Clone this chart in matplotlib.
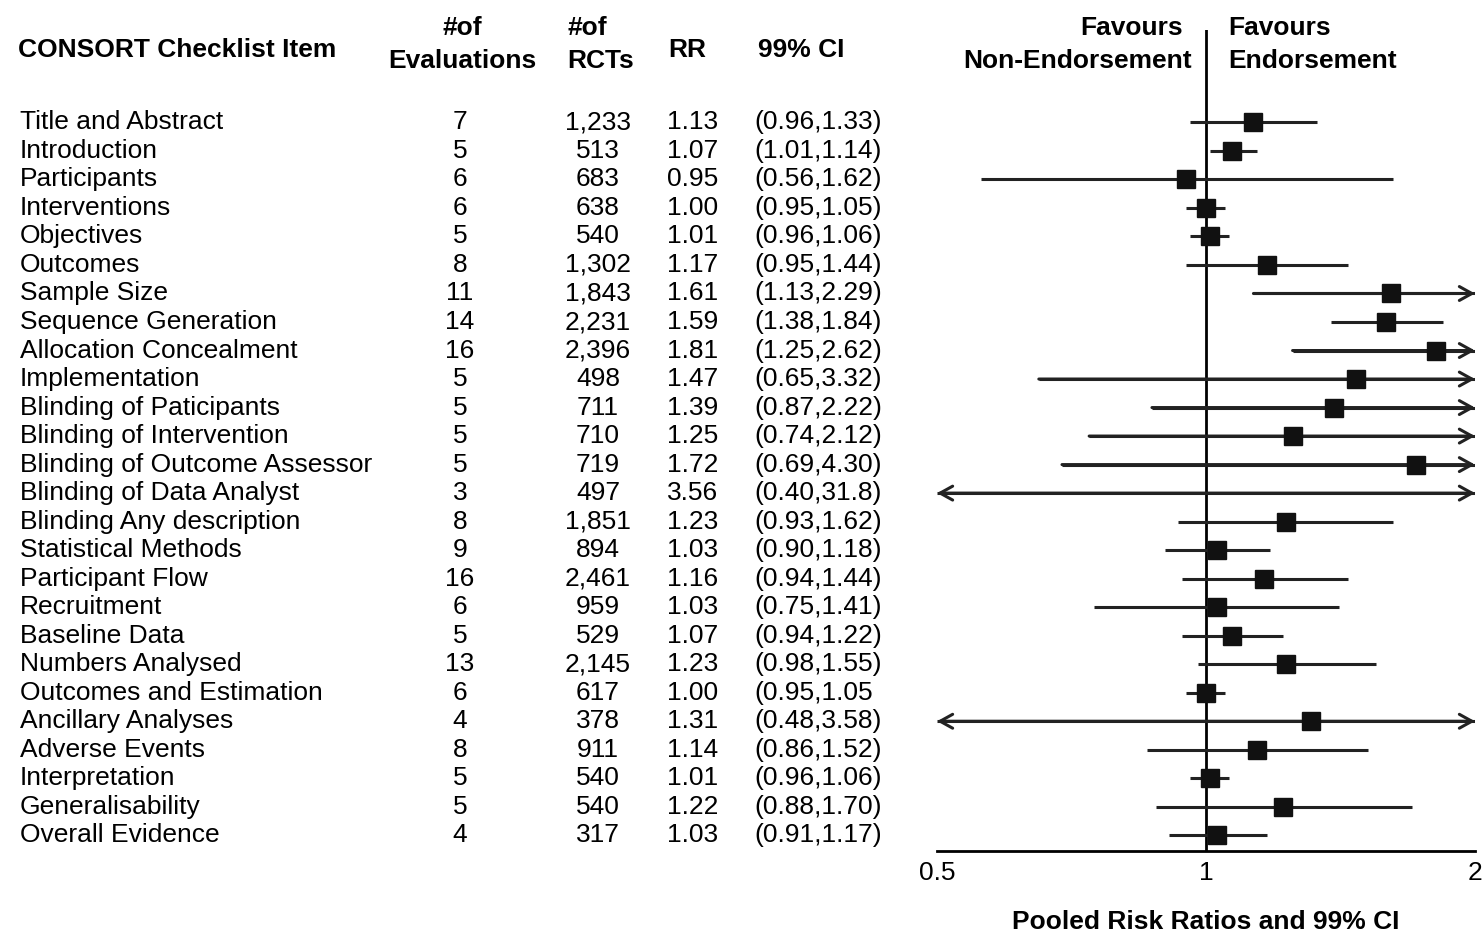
import matplotlib
matplotlib.use("Agg")
import matplotlib.pyplot as plt
import matplotlib.transforms as mtrans

plt.rcParams['font.family'] = ['Liberation Sans', 'DejaVu Sans']

items = ["Title and Abstract", "Introduction", "Participants", "Interventions", "Objectives",
         "Outcomes", "Sample Size", "Sequence Generation", "Allocation Concealment",
         "Implementation", "Blinding of Paticipants", "Blinding of Intervention",
         "Blinding of Outcome Assessor", "Blinding of Data Analyst", "Blinding Any description",
         "Statistical Methods", "Participant Flow", "Recruitment", "Baseline Data",
         "Numbers Analysed", "Outcomes and Estimation", "Ancillary Analyses", "Adverse Events",
         "Interpretation", "Generalisability", "Overall Evidence"]
n_evals = [7, 5, 6, 6, 5, 8, 11, 14, 16, 5, 5, 5, 5, 3, 8, 9, 16, 6, 5, 13, 6, 4, 8, 5, 5, 4]
n_rcts = ["1,233", "513", "683", "638", "540", "1,302", "1,843", "2,231", "2,396", "498",
          "711", "710", "719", "497", "1,851", "894", "2,461", "959", "529", "2,145",
          "617", "378", "911", "540", "540", "317"]
rr = [1.13, 1.07, 0.95, 1.00, 1.01, 1.17, 1.61, 1.59, 1.81, 1.47, 1.39, 1.25, 1.72, 3.56,
      1.23, 1.03, 1.16, 1.03, 1.07, 1.23, 1.00, 1.31, 1.14, 1.01, 1.22, 1.03]
lo = [0.96, 1.01, 0.56, 0.95, 0.96, 0.95, 1.13, 1.38, 1.25, 0.65, 0.87, 0.74, 0.69, 0.40,
      0.93, 0.90, 0.94, 0.75, 0.94, 0.98, 0.95, 0.48, 0.86, 0.96, 0.88, 0.91]
hi = [1.33, 1.14, 1.62, 1.05, 1.06, 1.44, 2.29, 1.84, 2.62, 3.32, 2.22, 2.12, 4.30, 31.8,
      1.62, 1.18, 1.44, 1.41, 1.22, 1.55, 1.05, 3.58, 1.52, 1.06, 1.70, 1.17]
ci_text = ["(0.96,1.33)", "(1.01,1.14)", "(0.56,1.62)", "(0.95,1.05)", "(0.96,1.06)",
           "(0.95,1.44)", "(1.13,2.29)", "(1.38,1.84)", "(1.25,2.62)", "(0.65,3.32)",
           "(0.87,2.22)", "(0.74,2.12)", "(0.69,4.30)", "(0.40,31.8)", "(0.93,1.62)",
           "(0.90,1.18)", "(0.94,1.44)", "(0.75,1.41)", "(0.94,1.22)", "(0.98,1.55)",
           "(0.95,1.05", "(0.48,3.58)", "(0.86,1.52)", "(0.96,1.06)", "(0.88,1.70)",
           "(0.91,1.17)"]
rr_text = ["1.13", "1.07", "0.95", "1.00", "1.01", "1.17", "1.61", "1.59", "1.81", "1.47",
           "1.39", "1.25", "1.72", "3.56", "1.23", "1.03", "1.16", "1.03", "1.07", "1.23",
           "1.00", "1.31", "1.14", "1.01", "1.22", "1.03"]
xticks = [0.5, 1, 2]
xtick_labels = ["0.5", "1", "2"]

W, H = 1483, 934
fig = plt.figure(figsize=(W / 100, H / 100), dpi=100)
ax = fig.add_axes([937 / W, 1 - 851 / H, (1475 - 937) / W, (851 - 30) / H])
ax.set_xscale('log')
XMIN, XMAX = 0.5, 2.0
ax.set_xlim(XMIN, XMAX)
ax.set_ylim(25.55, -3.24)
for s in ['top', 'right', 'left']:
    ax.spines[s].set_visible(False)
ax.spines['bottom'].set_linewidth(2)
ax.set_yticks([])
ax.set_xticks(xticks)
ax.set_xticklabels(xtick_labels)
ax.minorticks_off()
ax.tick_params(axis='x', length=0, pad=7, labelsize=19)
ax.axvline(1, color='black', lw=2, zorder=1)

for i in range(len(items)):
    l = max(lo[i], XMIN)
    h = min(hi[i], XMAX)
    left_arrow = lo[i] < XMIN
    right_arrow = hi[i] > XMAX
    ax.plot([l, h], [i, i], color='#222222', lw=2.2, solid_capstyle='butt', zorder=2)
    if left_arrow and right_arrow:
        style = '<->'
    elif right_arrow:
        style = '->'
    elif left_arrow:
        style = '<-'
    else:
        style = None
    if style:
        ax.annotate('', xy=(h, i), xytext=(l, i),
                    arrowprops=dict(arrowstyle=style + ',head_length=0.9,head_width=0.5',
                                    color='#222222', lw=2.2, shrinkA=0, shrinkB=0),
                    annotation_clip=False)
    if XMIN <= rr[i] <= XMAX:
        ax.plot(rr[i], i, marker='s', markersize=13, color='#111111', zorder=3)

ax.set_xlabel("Pooled Risk Ratios and 99% CI", fontsize=19, fontweight='bold', labelpad=18)

tr = mtrans.blended_transform_factory(fig.transFigure, ax.transData)
fs = 19
for i in range(len(items)):
    ax.text(20 / W, i, items[i], transform=tr, fontsize=fs, va='center', ha='left', clip_on=False)
    ax.text(460 / W, i, str(n_evals[i]), transform=tr, fontsize=fs, va='center', ha='center', clip_on=False)
    ax.text(598 / W, i, n_rcts[i], transform=tr, fontsize=fs, va='center', ha='center', clip_on=False)
    ax.text(693 / W, i, rr_text[i], transform=tr, fontsize=fs, va='center', ha='center', clip_on=False)
    ax.text(754 / W, i, ci_text[i], transform=tr, fontsize=fs, va='center', ha='left', clip_on=False)

hfs = 19
ax.text(18 / W, -2.55, "CONSORT Checklist Item", transform=tr, fontsize=hfs, fontweight='bold',
        va='center', ha='left', clip_on=False)
ax.text(462 / W, -3.3, "#of", transform=tr, fontsize=hfs, fontweight='bold', va='center', ha='center', clip_on=False)
ax.text(462 / W, -2.15, "Evaluations", transform=tr, fontsize=hfs, fontweight='bold', va='center', ha='center', clip_on=False)
ax.text(567 / W, -3.3, "#of", transform=tr, fontsize=hfs, fontweight='bold', va='center', ha='left', clip_on=False)
ax.text(567 / W, -2.15, "RCTs", transform=tr, fontsize=hfs, fontweight='bold', va='center', ha='left', clip_on=False)
ax.text(668 / W, -2.55, "RR", transform=tr, fontsize=hfs, fontweight='bold', va='center', ha='left', clip_on=False)
ax.text(758 / W, -2.55, "99% CI", transform=tr, fontsize=hfs, fontweight='bold', va='center', ha='left', clip_on=False)
ax.text(1183 / W, -3.3, "Favours", transform=tr, fontsize=hfs, fontweight='bold', va='center', ha='right', clip_on=False)
ax.text(1192 / W, -2.15, "Non-Endorsement", transform=tr, fontsize=hfs, fontweight='bold', va='center', ha='right', clip_on=False)
ax.text(1228 / W, -3.3, "Favours", transform=tr, fontsize=hfs, fontweight='bold', va='center', ha='left', clip_on=False)
ax.text(1228 / W, -2.15, "Endorsement", transform=tr, fontsize=hfs, fontweight='bold', va='center', ha='left', clip_on=False)

fig.savefig("out.png", dpi=100)
